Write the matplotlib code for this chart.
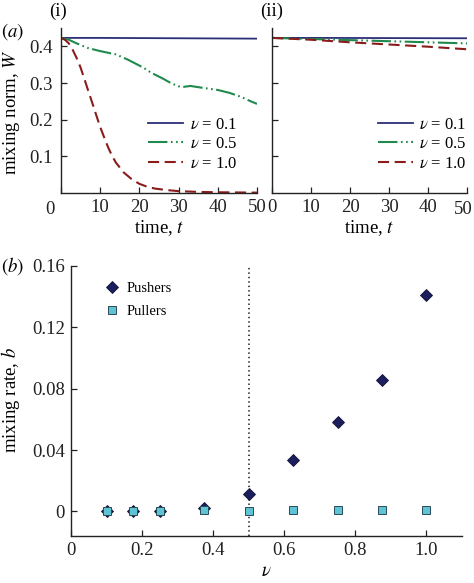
import matplotlib
matplotlib.use("Agg")
import matplotlib.pyplot as plt

plt.rcParams['font.family'] = 'serif'
plt.rcParams['font.serif'] = ['Liberation Serif', 'DejaVu Serif']
plt.rcParams['mathtext.fontset'] = 'stix'
plt.rcParams['lines.scale_dashes'] = False

# --- data ---
# panel (a)(i)
t_i_low = [0, 10, 20, 30, 40, 50]
w_i_low = [0.423, 0.423, 0.4225, 0.422, 0.4215, 0.421]
t_i_mid = [0, 2, 4, 7, 10, 14, 17, 19, 21, 23, 26, 28, 30, 31, 33, 36, 40, 43, 46, 48, 50]
w_i_mid = [0.423, 0.418, 0.408, 0.395, 0.387, 0.378, 0.364, 0.353, 0.342, 0.328, 0.312,
           0.300, 0.291, 0.289, 0.292, 0.287, 0.281, 0.273, 0.262, 0.252, 0.243]
t_i_high = [0, 1, 2, 3, 4, 5, 6, 7, 8, 9, 10, 11, 12, 13, 14, 16, 18, 20, 22, 24, 27, 30, 35, 40, 50]
w_i_high = [0.423, 0.418, 0.408, 0.390, 0.368, 0.342, 0.310, 0.277, 0.245, 0.212, 0.180, 0.152,
            0.125, 0.102, 0.083, 0.056, 0.038, 0.025, 0.017, 0.012, 0.008, 0.005, 0.003, 0.002, 0.001]
# panel (a)(ii)
t_ii = [0, 10, 20, 30, 40, 50]
w_ii_low = [0.423, 0.423, 0.4228, 0.4225, 0.4222, 0.422]
w_ii_mid = [0.423, 0.420, 0.417, 0.414, 0.411, 0.408]
w_ii_high = [0.423, 0.418, 0.411, 0.405, 0.399, 0.392]
legend_labels = [r'$\nu$ = 0.1', r'$\nu$ = 0.5', r'$\nu$ = 1.0']

# panel (b)
nu = [0.1, 0.175, 0.25, 0.375, 0.5, 0.625, 0.75, 0.875, 1.0]
pushers = [0.0, 0.0, 0.0003, 0.002, 0.0117, 0.0334, 0.058, 0.0859, 0.1414]
pullers = [0.0, 0.0, 0.0003, 0.0008, 0.0006, 0.0009, 0.001, 0.0011, 0.0011]

blue = '#2c2f78'
green = '#1f8a4c'
red = '#8a1c1c'
dash_green = (0, (14, 2.5, 1.2, 2.5, 1.2, 2.5))
dash_red = (0, (8, 4))

fig = plt.figure(figsize=(4.74, 5.83), dpi=100)
W, H = 474, 583
FS = 13.5


def px_axes(left, top, right, bottom):
    return fig.add_axes([left / W, 1 - bottom / H, (right - left) / W, (bottom - top) / H])


def style(ax, fs=FS):
    ax.spines['top'].set_visible(False)
    ax.spines['right'].set_visible(False)
    for s in ('left', 'bottom'):
        ax.spines[s].set_color('#222222')
        ax.spines[s].set_linewidth(1.0)
    ax.tick_params(direction='in', length=4, width=0.9, colors='#222222',
                   labelsize=fs, labelcolor='#222222')


def shifted_label(ax, x, text, dx):
    # tick label nudged sideways (as in the original figure)
    ax.annotate(text, xy=(x, 0), xycoords=('data', 'axes fraction'), xytext=(dx, -6),
                textcoords='offset points', ha='center', va='top', fontsize=FS,
                color='#222222', annotation_clip=False)


ax1 = px_axes(61, 28, 257, 193)
ax2 = px_axes(272, 28, 467, 193)
ax3 = px_axes(71, 266, 462, 536)

for ax, data in [(ax1, [(t_i_low, w_i_low), (t_i_mid, w_i_mid), (t_i_high, w_i_high)]),
                 (ax2, [(t_ii, w_ii_low), (t_ii, w_ii_mid), (t_ii, w_ii_high)])]:
    style(ax)
    ax.plot(*data[0], color=blue, lw=1.3, label=legend_labels[0])
    ax.plot(*data[1], color=green, lw=1.5, linestyle=dash_green, label=legend_labels[1])
    ax.plot(*data[2], color=red, lw=1.5, linestyle=dash_red, label=legend_labels[2])
    ax.set_xlim(0, 50)
    ax.set_ylim(0, 0.45)
    ax.set_xticks([0, 10, 20, 30, 40, 50])
    ax.set_yticks([0.1, 0.2, 0.3, 0.4])
    ax.tick_params(axis='x', pad=4.5)
    ax.tick_params(axis='y', pad=6)
    ax.set_xlabel(r'time, $t$', fontsize=FS, labelpad=1.5)
    ax.legend(loc='lower right', bbox_to_anchor=(0.9 if ax is ax1 else 1.0, 0.13),
              frameon=False, fontsize=12, handlelength=2.1, handletextpad=0.4,
              labelspacing=0.2, borderpad=0, borderaxespad=0)

ax1.set_xticklabels(['', '10', '20', '30', '40', '50'])
shifted_label(ax1, 0, '0', -8)
ax1.set_ylabel(r'mixing norm, $W$', fontsize=FS)
ax1.yaxis.set_label_coords(-0.2, 0.49)
ax2.set_yticklabels([])
ax2.set_xticklabels(['0', '10', '20', '30', '40', ''])
shifted_label(ax2, 50, '50', -2.5)

# panel (b)
style(ax3)
ax3.axvline(0.5, color='#222222', linestyle=(0, (1, 2.2)), lw=1.2, zorder=1)
ax3.plot(nu, pushers, linestyle='none', marker='D', ms=6.5, color='#1c1f5e',
         markeredgecolor='#111133', markeredgewidth=0.6, label='Pushers', zorder=3)
ax3.plot(nu, pullers, linestyle='none', marker='s', ms=5.5, color='#5ec4d4',
         markeredgecolor='#2a4a5a', markeredgewidth=0.7, label='Pullers', zorder=4)
ax3.set_xlim(0, 1.1)
ax3.set_ylim(-0.016, 0.16)
ax3.set_xticks([0, 0.2, 0.4, 0.6, 0.8, 1.0])
ax3.set_xticklabels(['0', '0.2', '0.4', '0.6', '0.8', '1.0'])
ax3.set_yticks([0, 0.04, 0.08, 0.12, 0.16])
ax3.set_yticklabels(['0', '0.04', '0.08', '0.12', '0.16'])
ax3.tick_params(axis='x', pad=4.5)
ax3.tick_params(axis='y', pad=4.5)
ax3.set_xlabel(r'$\nu$', fontsize=FS, labelpad=3)
ax3.set_ylabel(r'mixing rate, $b$', fontsize=FS)
ax3.yaxis.set_label_coords(-0.125, 0.504)
ax3.legend(loc='upper left', bbox_to_anchor=(0.086, 0.94), frameon=False, fontsize=10.5,
           handlelength=1.0, handletextpad=0.5, labelspacing=0.65, borderpad=0,
           borderaxespad=0, numpoints=1)

# panel tags
fig.text(1 / W, 1 - 32 / H, r'$(a)$', fontsize=FS, va='center', ha='left')
fig.text(58 / W, 1 - 11 / H, '(i)', fontsize=FS, va='center', ha='center')
fig.text(272 / W, 1 - 11 / H, '(ii)', fontsize=FS, va='center', ha='center')
fig.text(1 / W, 1 - 266 / H, r'$(b)$', fontsize=FS, va='center', ha='left')

fig.savefig('out.png', dpi=100)
